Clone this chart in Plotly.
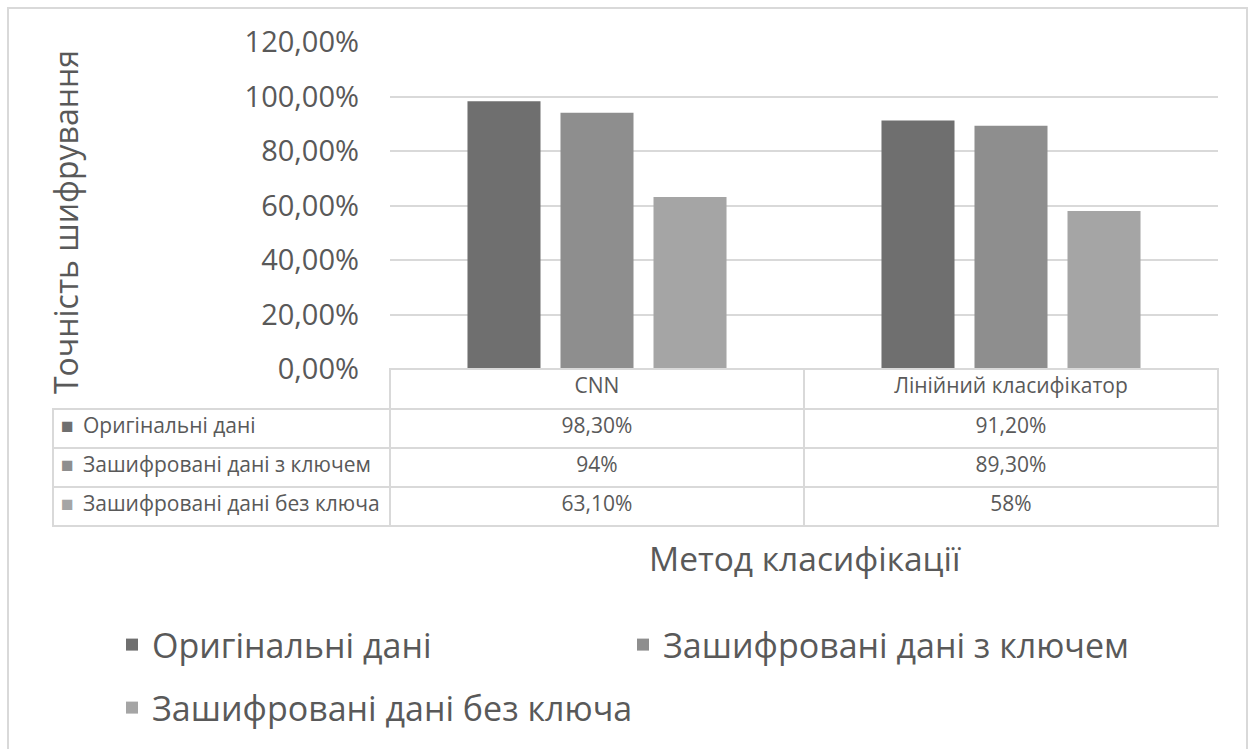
import plotly.graph_objects as go

# Classification methods and accuracy of encryption per data variant
methods = ["CNN", "Лінійний класифікатор"]
series_names = [
    "Оригінальні дані",
    "Зашифровані дані з ключем",
    "Зашифровані дані без ключа",
]
original = [0.983, 0.912]
with_key = [0.94, 0.893]
without_key = [0.631, 0.58]
series_values = [original, with_key, without_key]
series_colors = ["#6f6f6f", "#8e8e8e", "#a5a5a5"]

y_tick_values = [0, 0.2, 0.4, 0.6, 0.8, 1.0, 1.2]

FONT = "Open Sans"
TEXT = "#595959"
GRID = "#d9d9d9"
CLEAR = "rgba(0,0,0,0)"

W, H = 1251, 749
ML, MR, MT, MB = 53, 33, 42, 222
PW, PH = W - ML - MR, H - MT - MB

# pixel helpers for paper coordinates of the plot area
def px_x(px):
    return (px - ML) / PW

def px_y(py):
    return (H - MB - py) / PH

axis_left = 390
axis_bottom = 369
TABLE_FONT = 21
HEADER_H, ROW_H = 40, 39


def pct_label(v):
    p = round(v * 100, 2)
    if abs(p - round(p)) < 1e-9:
        return f"{int(round(p))}%"
    return f"{p:.2f}".replace(".", ",") + "%"


fig = go.Figure()

for name, vals, col in zip(series_names, series_values, series_colors):
    fig.add_trace(go.Bar(
        x=methods, y=vals, name=name,
        marker=dict(color=col, line=dict(width=0)),
        legend="legend2" if name == series_names[2] else "legend",
        hovertemplate="%{x}: %{y:.2%}<extra>" + name + "</extra>",
    ))

value_cols = [[pct_label(series_values[s][m]) for s in range(3)] for m in range(len(methods))]
table_top = px_y(axis_bottom)

# data table grid with the values; the label column is filled by the overlays below
fig.add_trace(go.Table(
    domain=dict(x=[0, 1], y=[0, table_top]),
    columnwidth=[axis_left - ML, 414, 414],
    header=dict(
        values=[""] + methods,
        height=HEADER_H,
        align="center",
        fill=dict(color=[CLEAR, "white", "white"]),
        line=dict(color=[CLEAR, GRID, GRID], width=1.5),
        font=dict(family=FONT, size=TABLE_FONT, color=TEXT),
    ),
    cells=dict(
        values=[[""] * len(series_names)] + value_cols,
        height=ROW_H,
        align=["left", "center", "center"],
        fill=dict(color="white"),
        line=dict(color=GRID, width=1.5),
        font=dict(family=FONT, size=TABLE_FONT, color=TEXT),
    ),
    hoverinfo="skip",
))

# colour keys of the table rows
fig.add_trace(go.Table(
    domain=dict(x=[0, px_x(78)], y=[0, table_top]),
    header=dict(values=[""], height=HEADER_H,
                fill=dict(color=CLEAR), line=dict(color=CLEAR)),
    cells=dict(
        values=[["■"] * len(series_names)],
        height=ROW_H, align="left",
        fill=dict(color=CLEAR), line=dict(color=CLEAR),
        font=dict(family=FONT, size=TABLE_FONT, color=[series_colors]),
    ),
    hoverinfo="skip",
))

# series names of the table rows
fig.add_trace(go.Table(
    domain=dict(x=[px_x(75), px_x(440)], y=[0, table_top]),
    header=dict(values=[""], height=HEADER_H,
                fill=dict(color=CLEAR), line=dict(color=CLEAR)),
    cells=dict(
        values=[series_names],
        height=ROW_H, align="left",
        fill=dict(color=CLEAR), line=dict(color=CLEAR),
        font=dict(family=FONT, size=TABLE_FONT, color=TEXT),
    ),
    hoverinfo="skip",
))

fig.update_layout(
    width=W, height=H,
    margin=dict(l=ML, r=MR, t=MT, b=MB),
    paper_bgcolor="white", plot_bgcolor="white",
    separators=", ",
    font=dict(family=FONT, color=TEXT),
    barmode="group", bargap=0.326, bargroupgap=0.215,
    showlegend=True,
    legend=dict(
        orientation="h", x=px_x(112), xanchor="left",
        y=px_y(645), yanchor="middle",
        entrywidth=466, entrywidthmode="pixels",
        font=dict(family=FONT, size=34, color=TEXT),
        bgcolor=CLEAR,
    ),
    legend2=dict(
        orientation="h", x=px_x(112), xanchor="left",
        y=px_y(708), yanchor="middle",
        font=dict(family=FONT, size=34, color=TEXT),
        bgcolor=CLEAR,
    ),
    xaxis=dict(
        domain=[px_x(axis_left), 1],
        showticklabels=False, ticks="", showgrid=False,
        showline=False, zeroline=False,
    ),
    yaxis=dict(
        domain=[table_top, 1],
        range=[0, 1.2], tickvals=y_tick_values, tickformat=".2%",
        ticks="", ticklabelstandoff=30,
        tickfont=dict(family=FONT, size=29, color=TEXT),
        showgrid=True, gridcolor=GRID, gridwidth=2,
        zeroline=False, showline=False,
    ),
    annotations=[
        dict(text="Точність шифрування", textangle=-90,
             xref="paper", yref="paper", x=px_x(65), y=px_y(222),
             xanchor="center", yanchor="middle", showarrow=False,
             font=dict(family=FONT, size=32, color=TEXT)),
        dict(text="Метод класифікації",
             xref="paper", yref="paper", x=px_x(805), y=px_y(558),
             xanchor="center", yanchor="middle", showarrow=False,
             font=dict(family=FONT, size=33.5, color=TEXT)),
    ],
    shapes=[
        dict(type="rect", xref="paper", yref="paper",
             x0=px_x(8), x1=px_x(1247), y0=px_y(770), y1=px_y(8),
             line=dict(color=GRID, width=2), fillcolor=CLEAR,
             layer="below"),
    ],
)

fig.write_html("out.html")
